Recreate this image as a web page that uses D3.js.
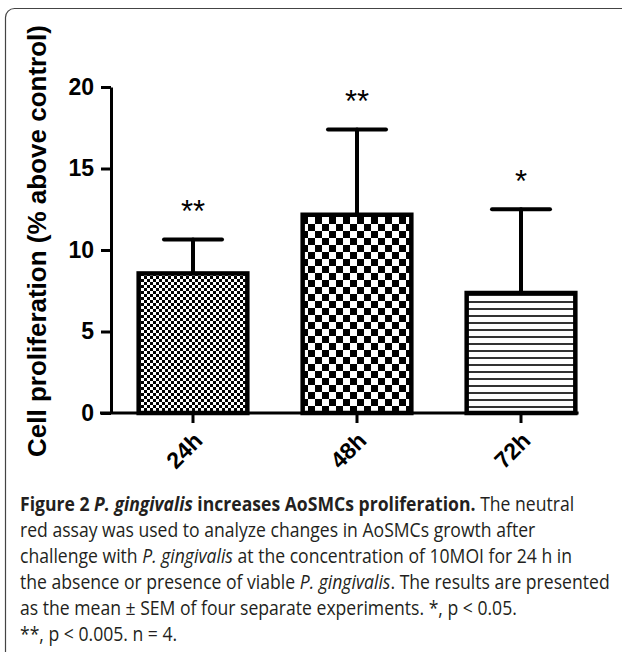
<!DOCTYPE html>
<html>
<head>
<meta charset="utf-8">
<script src="https://cdn.jsdelivr.net/npm/d3@7"></script>
<style>
  body { margin: 0; background: #fff; }
  svg { display: block; }
</style>
</head>
<body>
<div id="chart"></div>
<script>
// chart values
const categories = ['24h', '48h', '72h'];
const means = [8.7, 12.3, 7.5];
const sem = [1.95, 5.1, 5.0];
const stars = ['**', '**', '*'];
const yTicks = [0, 5, 10, 15, 20];
const fills = ['url(#fine)', 'url(#coarse)', 'url(#hlines)'];

const captionLines = [
  [['b', 'Figure 2 '], ['bi', 'P. gingivalis'], ['b', ' increases AoSMCs proliferation.'], ['', ' The neutral']],
  [['', 'red assay was used to analyze changes in AoSMCs growth after']],
  [['', 'challenge with '], ['i', 'P. gingivalis'], ['', ' at the concentration of 10MOI for 24 h in']],
  [['', 'the absence or presence of viable '], ['i', 'P. gingivalis'], ['', '. The results are presented']],
  [['', 'as the mean \u00b1 SEM of four separate experiments. *, p < 0.05.']],
  [['', '**, p < 0.005. n = 4.']]
];

const W = 622, H = 652;
const svg = d3.select('#chart').append('svg')
  .attr('width', W)
  .attr('height', H);

// frame around the figure
svg.append('rect')
  .attr('x', 5.5).attr('y', 8.5)
  .attr('width', 640).attr('height', 680)
  .attr('rx', 9)
  .attr('fill', 'none')
  .attr('stroke', '#444')
  .attr('stroke-width', 1.2);

// fill patterns
const defs = svg.append('defs');
const fine = defs.append('pattern').attr('id', 'fine')
  .attr('patternUnits', 'userSpaceOnUse').attr('width', 6).attr('height', 6);
fine.append('rect').attr('width', 6).attr('height', 6).attr('fill', '#fff');
fine.append('rect').attr('width', 3).attr('height', 3).attr('fill', '#000');
fine.append('rect').attr('x', 3).attr('y', 3).attr('width', 3).attr('height', 3).attr('fill', '#000');

const coarse = defs.append('pattern').attr('id', 'coarse')
  .attr('patternUnits', 'userSpaceOnUse').attr('width', 14).attr('height', 14);
coarse.append('rect').attr('width', 14).attr('height', 14).attr('fill', '#fff');
coarse.append('rect').attr('width', 7).attr('height', 7).attr('fill', '#000');
coarse.append('rect').attr('x', 7).attr('y', 7).attr('width', 7).attr('height', 7).attr('fill', '#000');

const hlines = defs.append('pattern').attr('id', 'hlines')
  .attr('patternUnits', 'userSpaceOnUse').attr('width', 7).attr('height', 7);
hlines.append('rect').attr('width', 7).attr('height', 7).attr('fill', '#fff');
hlines.append('rect').attr('y', 0).attr('width', 7).attr('height', 2).attr('fill', '#333');

// scales
const y = d3.scaleLinear().domain([0, 20]).range([413, 87]);
const x = d3.scaleBand()
  .domain(categories)
  .range([111, 603])
  .paddingInner(0.31)
  .paddingOuter(0.155);

const bw = x.bandwidth();
const sw = 4.5;

// bars
svg.append('g').selectAll('rect')
  .data(categories)
  .enter()
  .append('rect')
  .attr('x', d => x(d) + sw / 2)
  .attr('y', (d, i) => y(means[i]) + sw / 2)
  .attr('width', bw - sw)
  .attr('height', (d, i) => y(0) - y(means[i]) - sw / 2)
  .attr('fill', (d, i) => fills[i])
  .attr('stroke', '#000')
  .attr('stroke-width', sw);

// error bars (upper only)
const err = svg.append('g')
  .attr('stroke', '#000')
  .attr('stroke-width', 4)
  .attr('stroke-linecap', 'round');
categories.forEach((c, i) => {
  const cx = x(c) + bw / 2;
  err.append('line')
    .attr('x1', cx).attr('x2', cx)
    .attr('y1', y(means[i])).attr('y2', y(means[i] + sem[i]));
  err.append('line')
    .attr('x1', cx - 29).attr('x2', cx + 29)
    .attr('y1', y(means[i] + sem[i])).attr('y2', y(means[i] + sem[i]));
});

// significance stars
svg.append('g').selectAll('text')
  .data(categories)
  .enter()
  .append('text')
  .attr('x', d => x(d) + bw / 2)
  .attr('y', (d, i) => y(means[i] + sem[i]) - 17)
  .attr('text-anchor', 'middle')
  .attr('font-family', 'Liberation Sans, Arial, sans-serif')
  .attr('font-size', 31)
  .text((d, i) => stars[i]);

// y axis
const yAxis = svg.append('g')
  .attr('transform', 'translate(111,0)')
  .call(d3.axisLeft(y).tickValues(yTicks).tickSize(10).tickSizeOuter(0).tickPadding(7));
yAxis.selectAll('path, line').attr('stroke', '#000').attr('stroke-width', 3);
yAxis.selectAll('text')
  .attr('font-family', 'Liberation Sans, Arial, sans-serif')
  .attr('font-weight', 'bold')
  .attr('font-size', 23)
  .attr('fill', '#000');

// x axis
const xAxis = svg.append('g')
  .attr('transform', 'translate(0,413)')
  .call(d3.axisBottom(x).tickSize(10).tickSizeOuter(0));
xAxis.select('.domain').remove();
xAxis.selectAll('line').attr('stroke', '#000').attr('stroke-width', 3);
xAxis.selectAll('text')
  .attr('font-family', 'Liberation Sans, Arial, sans-serif')
  .attr('font-weight', 'bold')
  .attr('font-size', 23)
  .attr('fill', '#000')
  .attr('text-anchor', 'end')
  .attr('dy', null)
  .attr('y', 0)
  .attr('transform', 'translate(11,29) rotate(-45)');
svg.append('line')
  .attr('x1', 100).attr('x2', x(categories[2]) + bw + 1)
  .attr('y1', 413).attr('y2', 413)
  .attr('stroke', '#000')
  .attr('stroke-width', 3);

// y axis title
svg.append('text')
  .attr('transform', 'translate(46,241) rotate(-90)')
  .attr('text-anchor', 'middle')
  .attr('font-family', 'Liberation Sans, Arial, sans-serif')
  .attr('font-weight', 'bold')
  .attr('font-size', 26)
  .text('Cell proliferation (% above control)');

// caption
const cap = svg.append('g')
  .attr('font-family', 'Open Sans, sans-serif')
  .attr('font-size', 19.5)
  .attr('fill', '#231f20');
const capText = [];
captionLines.forEach((line, li) => {
  const t = cap.append('text').attr('x', 0).attr('y', 511 + li * 26);
  line.forEach(([st, s]) => {
    t.append('tspan')
      .attr('font-weight', st.includes('b') ? 'bold' : null)
      .attr('font-style', st.includes('i') ? 'italic' : null)
      .text(s);
  });
  capText.push(t);
});
const refW = capText[3].node().getComputedTextLength();
const k = 590 / refW;
cap.attr('transform', `translate(20,0) scale(${k},1)`);
</script>
</body>
</html>
